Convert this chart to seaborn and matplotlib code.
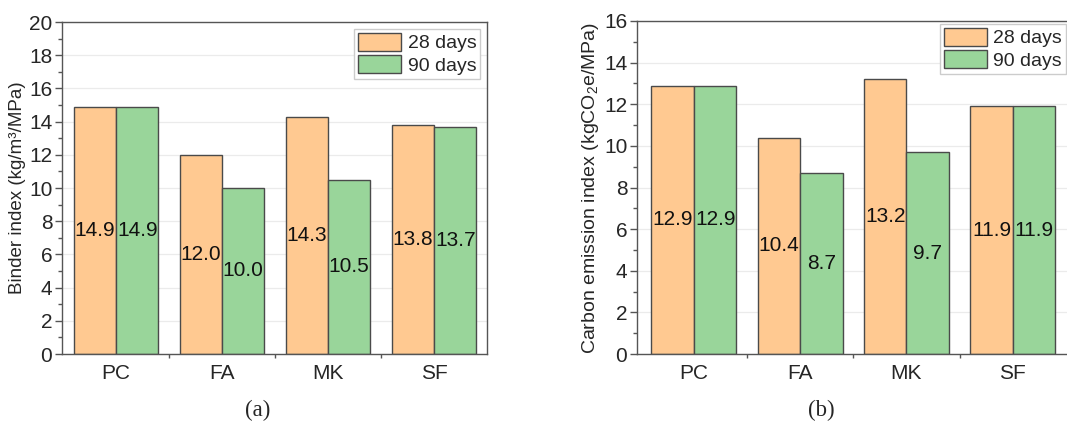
import numpy as np
import pandas as pd
import seaborn as sns
import matplotlib.pyplot as plt
from matplotlib.ticker import MultipleLocator, FixedLocator

mixes = ["PC", "FA", "MK", "SF"]
ages = ["28 days", "90 days"]
binder_28 = [14.9, 12.0, 14.3, 13.8]
binder_90 = [14.9, 10.0, 10.5, 13.7]
carbon_28 = [12.9, 10.4, 13.2, 11.9]
carbon_90 = [12.9, 8.7, 9.7, 11.9]

colors = ["#FFC991", "#99D59A"]

sns.set_style("white")
plt.rcParams['font.family'] = ['Liberation Sans', 'DejaVu Sans']
plt.rcParams['mathtext.fontset'] = 'custom'
plt.rcParams['mathtext.rm'] = 'Liberation Sans'
plt.rcParams['mathtext.it'] = 'Liberation Sans:italic'


def make_df(v28, v90):
    rows = []
    for m, a, b in zip(mixes, v28, v90):
        rows.append((m, ages[0], a))
        rows.append((m, ages[1], b))
    return pd.DataFrame(rows, columns=["mix", "age", "value"])


fig = plt.figure(figsize=(10.67, 4.21), dpi=100)
ax1 = fig.add_axes([62 / 1067, 67 / 421, 425 / 1067, 332 / 421])
ax2 = fig.add_axes([637 / 1067, 67 / 421, 432 / 1067, 333 / 421])


def draw(ax, df, ylim, ylabel, ylabel_size, xlim, leg_pad):
    ax.yaxis.grid(True, color="#ebebeb", lw=0.9)
    ax.set_axisbelow(True)
    sns.barplot(data=df, x="mix", y="value", hue="age", palette=colors,
                width=0.8, edgecolor="#4a4a4a", linewidth=1.0, ax=ax,
                saturation=1, errorbar=None)
    for c in ax.containers:
        ax.bar_label(c, labels=["%.1f" % b.get_height() for b in c],
                     label_type="center", fontsize=15, color="#111111")
    ax.set_ylim(*ylim)
    ax.set_xlim(*xlim)
    ax.yaxis.set_major_locator(MultipleLocator(2))
    ax.yaxis.set_minor_locator(MultipleLocator(1))
    ax.xaxis.set_minor_locator(FixedLocator([0.5, 1.5, 2.5]))
    ax.tick_params(axis="y", which="major", direction="out", length=5,
                   width=1, color="#555555", labelsize=15, left=True, pad=2)
    ax.tick_params(axis="y", which="minor", direction="out", length=3,
                   width=1, color="#555555", left=True)
    ax.tick_params(axis="x", which="major", length=0, labelsize=15, pad=7)
    ax.tick_params(axis="x", which="minor", direction="out", length=3,
                   width=1, color="#555555", bottom=True)
    for s in ax.spines.values():
        s.set_color("#555555")
        s.set_linewidth(1.0)
    ax.set_xlabel("")
    ax.set_ylabel(ylabel, fontsize=ylabel_size, labelpad=2)
    ax.legend(loc="upper right", fontsize=14,
              frameon=True, fancybox=False, edgecolor="#cccccc",
              handlelength=2.2, handleheight=1.05, handletextpad=0.35,
              labelspacing=0.15, borderpad=0.2, borderaxespad=leg_pad,
              framealpha=1)


draw(ax1, make_df(binder_28, binder_90), (0, 20),
     "Binder index (kg/m³/MPa)", 13.5, (-0.51, 3.5), 0.35)
draw(ax2, make_df(carbon_28, carbon_90), (0, 16),
     "Carbon emission index (kgCO$_2$e/MPa)", 14, (-0.536, 3.53), 0.15)

fig.text(258 / 1067, 1 - 410 / 421, "(a)", ha="center", va="center",
         fontsize=16.5, family="Liberation Serif")
fig.text(821 / 1067, 1 - 410 / 421, "(b)", ha="center", va="center",
         fontsize=16.5, family="Liberation Serif")

fig.savefig("out.png", dpi=100)
